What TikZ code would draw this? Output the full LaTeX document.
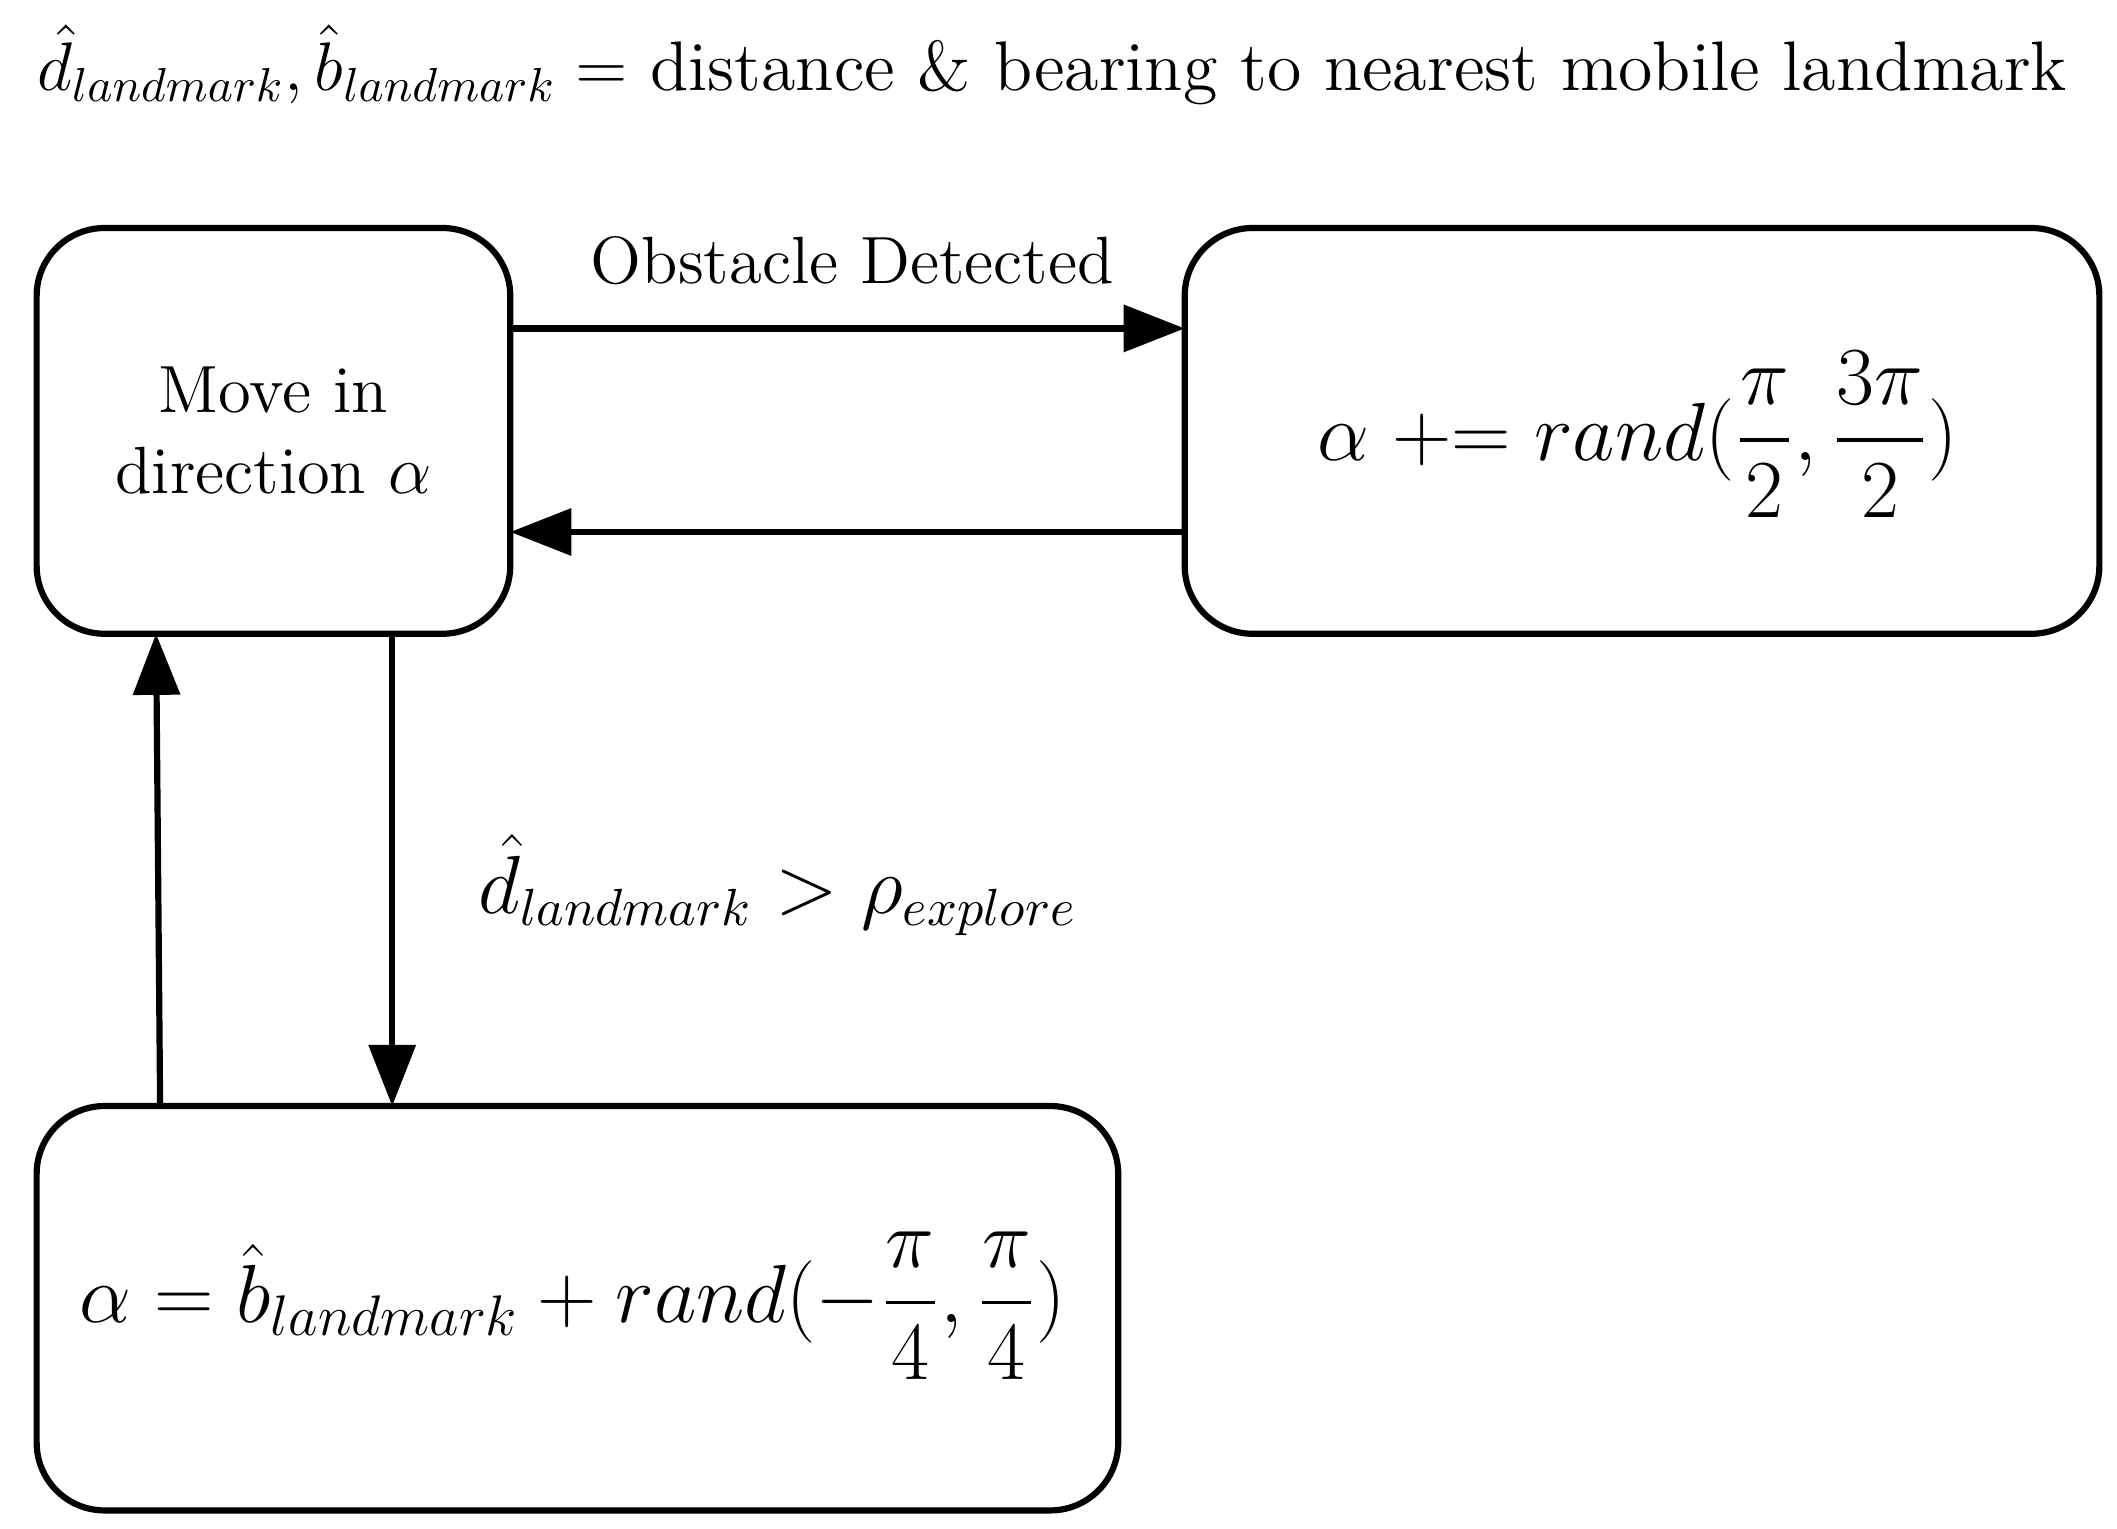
\documentclass[tikz,border=0pt]{standalone}
\usepackage{amsmath}
\usetikzlibrary{arrows.meta}
\begin{document}
\begin{tikzpicture}[x=0.01cm,y=-0.01cm,
  box/.style={draw,line width=1.3pt,rounded corners=0.5cm,inner sep=0pt},
  conn/.style={line width=1.3pt,-{Triangle[length=0.45cm,width=0.34cm]}},
  lbl/.style={font=\fontsize{14}{17}\selectfont}]
\useasboundingbox (0,0) rectangle (1560,1126);
\node[lbl,font=\fontsize{14.7}{17}\selectfont,anchor=west] (title) at (15,48) {$\hat{d}_{landmark},\hat{b}_{landmark}=$ distance \& bearing to nearest mobile landmark};
\draw[box] (27,168) rectangle (376,467);
\node[lbl,align=center] (A) at (201.5,317.5) {Move in\\direction $\alpha$};
\coordinate (Aa) at (376,242); \coordinate (Ab) at (376,392);
\coordinate (Ac) at (289,467); \coordinate (Ad) at (115,467);
\draw[box] (873,168) rectangle (1547,467);
\node[font=\fontsize{17.5}{20}\selectfont] (B) at (1207,320) {$\alpha \mathrel{+}= rand(\dfrac{\pi}{2},\dfrac{3\pi}{2})$};
\coordinate (Ba) at (873,242); \coordinate (Bb) at (873,392);
\draw[box] (27,815) rectangle (824,1113);
\node[font=\fontsize{17.5}{20}\selectfont] (C) at (422,962) {$\alpha=\hat{b}_{landmark}+rand(-\dfrac{\pi}{4},\dfrac{\pi}{4})$};
\coordinate (Ca) at (289,815); \coordinate (Cb) at (118,815);
\draw[conn] (Aa) -- (Ba);
\draw[conn] (Bb) -- (Ab);
\draw[conn] (Ac) -- (Ca);
\draw[conn] (Cb) -- (Ad);
\node[lbl] (l1) at (628,192) {Obstacle Detected};
\node[lbl,font=\fontsize{16.3}{19}\selectfont] (l2) at (573,652) {$\hat{d}_{landmark}>\rho_{explore}$};
\end{tikzpicture}
\end{document}
